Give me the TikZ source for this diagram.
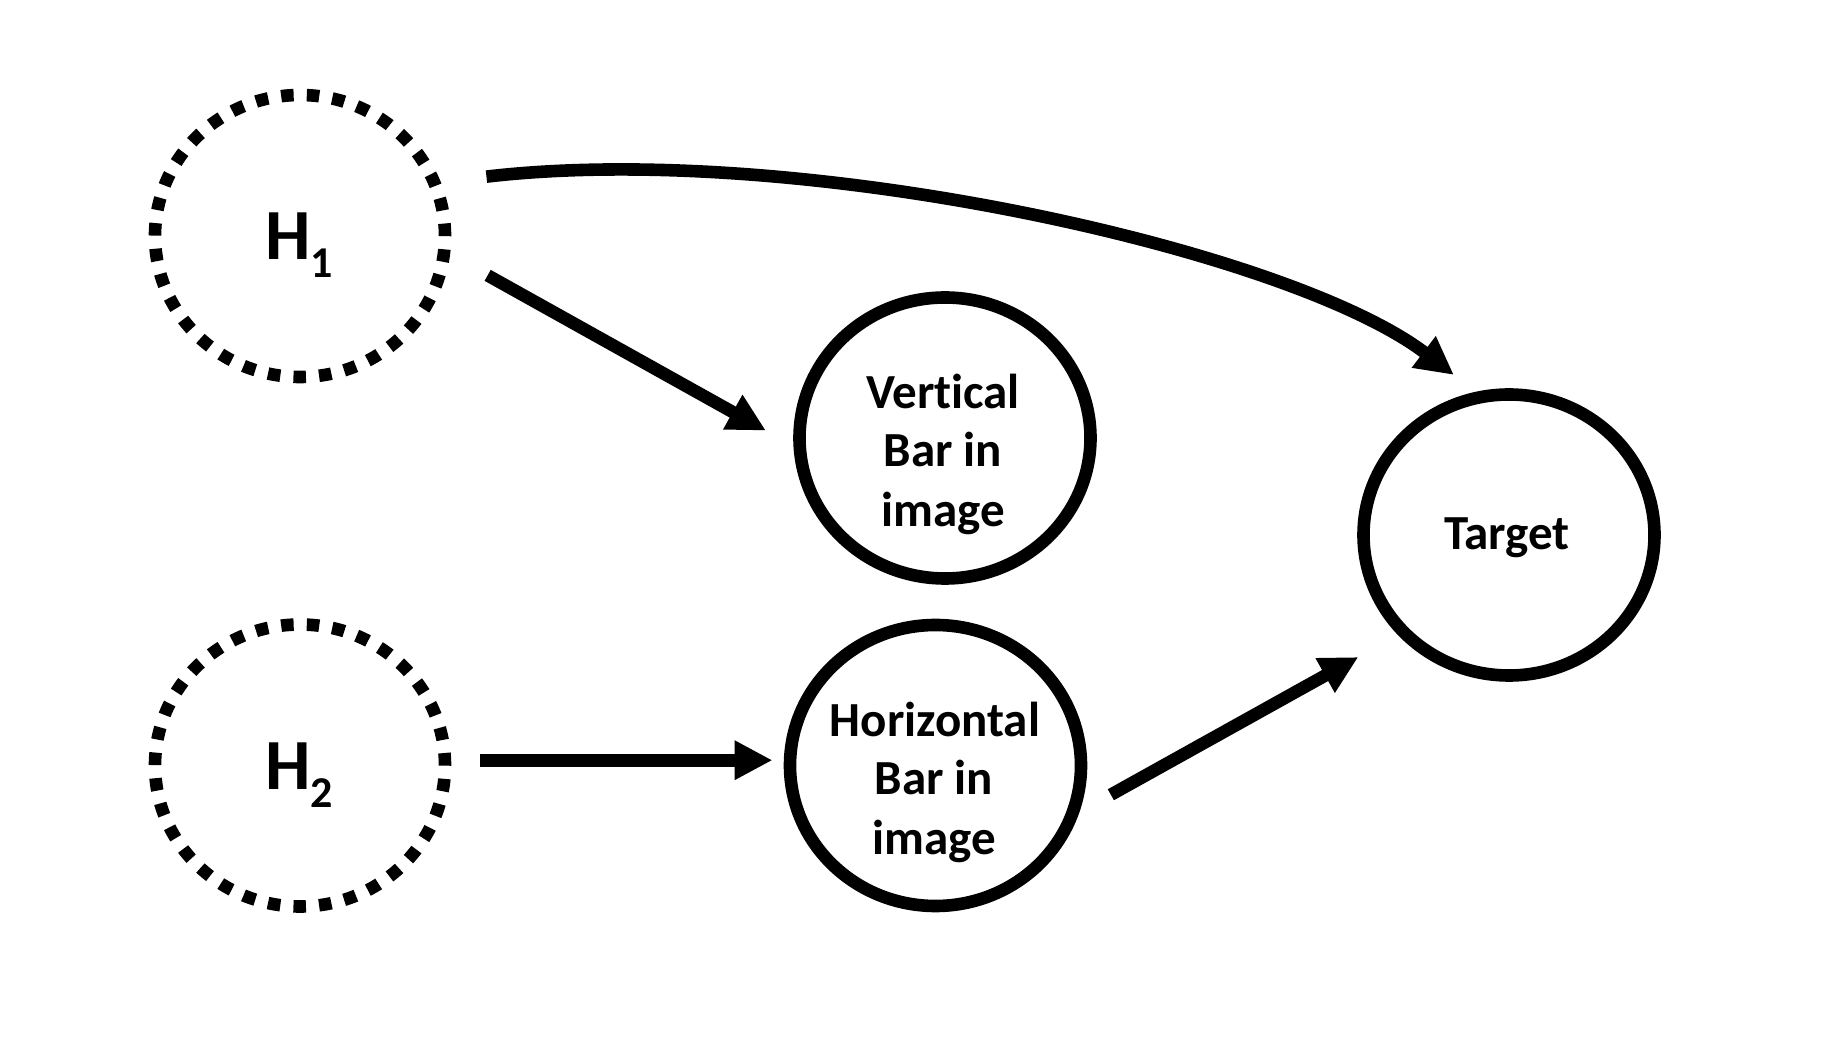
\documentclass[tikz,border=0pt]{standalone}
\usepackage{fontspec}
\setmainfont{Carlito}[Ligatures={NoCommon,NoContextual}]
\usetikzlibrary{shapes.geometric,arrows.meta}
\begin{document}
\begin{tikzpicture}[x=0.5pt,y=-0.5pt,
  hidden/.style={ellipse, draw, line width=6.3pt, line cap=butt, dash pattern=on 6.25pt off 6.585pt, minimum width=145pt, minimum height=141pt, inner sep=0pt},
  obs/.style={ellipse, draw, line width=6.3pt, minimum width=145.5pt, minimum height=140.5pt, inner sep=0pt},
  lbl/.style={anchor=base, inner sep=0pt, font=\fontsize{24.5pt}{29pt}\selectfont\bfseries},
  hlbl/.style={anchor=base, inner sep=0pt, font=\fontsize{36pt}{40pt}\selectfont\bfseries},
  conn/.style={line width=6.3pt, -{Triangle[length=19pt,width=18.5pt]}}
]
\useasboundingbox (0,0) rectangle (1844,1052);
% nodes
\node[hidden] (h1) at (300,236) {};
\node[hidden] (h2) at (300,765.5) {};
\node[obs] (vb) at (945,438) {};
\node[obs] (hb) at (935.5,765.5) {};
\node[obs] (tg) at (1509,535) {};
% labels
\node[hlbl] (h1t) at (299,260) {H\raisebox{-9pt}{\fontsize{22pt}{22pt}\selectfont 1}};
\node[hlbl] (h2t) at (299,790) {H\raisebox{-9pt}{\fontsize{22pt}{22pt}\selectfont 2}};
\node[lbl] (vb1) at (943,409) {Vertical};
\node[lbl] (vb2) at (943,467) {Bar in};
\node[lbl] (vb3) at (943,527) {image};
\node[lbl] (hb1) at (935,737) {Horizontal};
\node[lbl] (hb2) at (934,795) {Bar in};
\node[lbl] (hb3) at (934,855) {image};
\node[lbl] (tgt) at (1507,550) {Target};
% connectors
\draw[conn, shorten <=21.5pt, shorten >=15.75pt] (h1.-7.6) -- (vb.183.9);
\draw[conn, shorten <=14.6pt, shorten >=5.6pt] (h2.2.66) -- (hb.west |- h2.2.66);
\draw[conn, shorten <=18pt, shorten >=22.65pt] (hb.-18.5) -- (tg.-138.2);
\draw[conn, shorten <=23pt, shorten >=13.85pt] (h1.21.3) .. controls (800,140) and (1290,250) .. (tg.103.8);
\end{tikzpicture}
\end{document}
